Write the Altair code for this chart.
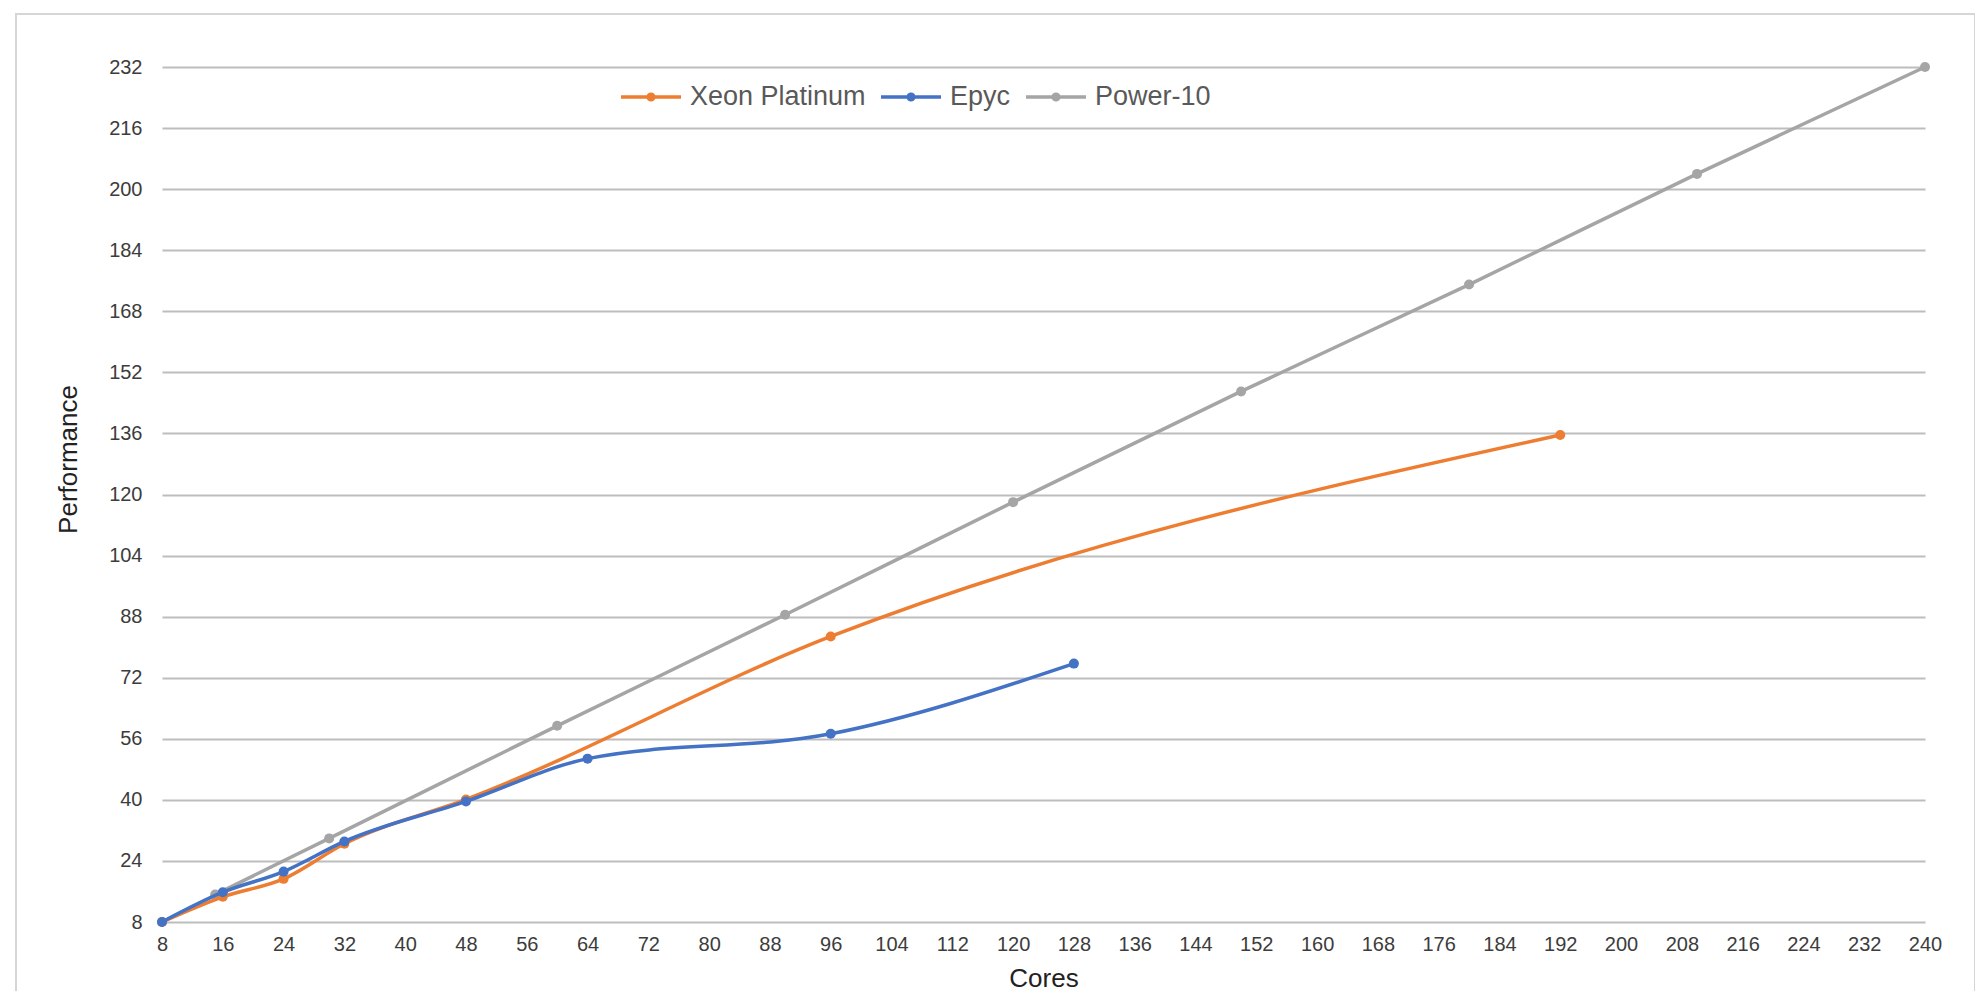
import altair as alt
import pandas as pd

series_names = ["Xeon Platinum", "Epyc", "Power-10"]
series_colors = ["#ED7D31", "#4472C4", "#A5A5A5"]

xeon_cores = [8, 16, 24, 32, 48, 96, 192]
xeon_perf = [8, 14.6, 19.3, 28.5, 40.1, 82.8, 135.6]

epyc_cores = [8, 16, 24, 32, 48, 64, 96, 128]
epyc_perf = [8, 15.8, 21.2, 29.1, 39.6, 50.8, 57.3, 75.7]

power_cores = [15, 30, 60, 90, 120, 150, 180, 210, 240]
power_perf = [15.2, 29.9, 59.4, 88.5, 118, 147, 175, 204, 232]

x_ticks = list(range(8, 241, 8))
y_ticks = list(range(8, 233, 16))

FONT = "Liberation Sans"


def frame(name, cores, perf):
    return pd.DataFrame({"Cores": cores, "Performance": perf, "Series": [name] * len(cores)})


df_xeon = frame("Xeon Platinum", xeon_cores, xeon_perf)
df_epyc = frame("Epyc", epyc_cores, epyc_perf)
df_power = frame("Power-10", power_cores, power_perf)

x_enc = alt.X(
    "Cores:Q",
    scale=alt.Scale(domain=[8, 240], nice=False, zero=False),
    axis=alt.Axis(
        values=x_ticks,
        grid=False,
        ticks=False,
        domain=False,
        labelFontSize=20,
        labelFont=FONT,
        labelColor="#3c3c3c",
        labelPadding=12,
        labelFlush=False,
        labelOverlap=False,
        title="Cores",
        titleFont=FONT,
        titleFontSize=26,
        titleFontWeight="normal",
        titleColor="#222222",
        titleY=56,
        titleBaseline="middle",
    ),
)

y_enc = alt.Y(
    "Performance:Q",
    scale=alt.Scale(domain=[8, 232], nice=False, zero=False),
    axis=alt.Axis(
        values=y_ticks,
        grid=True,
        gridColor="#BDBDBD",
        gridWidth=2,
        ticks=False,
        domain=False,
        labelFontSize=20,
        labelFont=FONT,
        labelColor="#3c3c3c",
        labelPadding=20,
        labelOverlap=False,
        title="Performance",
        titleFont=FONT,
        titleFontSize=26,
        titleFontWeight="normal",
        titleColor="#222222",
        titleAngle=270,
        titleX=-94,
        titleY=392,
        titleAlign="center",
        titleBaseline="middle",
    ),
)

color_enc = alt.Color(
    "Series:N",
    scale=alt.Scale(domain=series_names, range=series_colors),
    legend=alt.Legend(
        title=None,
        orient="none",
        direction="horizontal",
        legendX=457,
        legendY=-2,
        symbolType="M-1,0H1M0.095,0A0.095,0.095 0 1,1 -0.095,0A0.095,0.095 0 1,1 0.095,0Z",
        symbolSize=3600,
        symbolStrokeWidth=3.5,
        labelFont=FONT,
        labelFontSize=27,
        labelColor="#595959",
        labelOffset=7,
        labelLimit=500,
        columnPadding=8,
        padding=0,
        labelExpr="datum.label == 'Xeon Platinum' ? '\u00a0\u00a0\u00a0\u00a0Xeon Platinum' : datum.label",
    ),
)


def series_layers(df):
    base = alt.Chart(df).encode(x=x_enc, y=y_enc, color=color_enc)
    line = base.mark_line(interpolate="monotone", strokeWidth=3.5)
    pts = base.mark_circle(size=100, opacity=1)
    return [line, pts]


border = alt.Chart(pd.DataFrame({"a": [0]})).mark_rect(
    filled=False, stroke="#D6D6D6", strokeWidth=2
).encode(
    x=alt.value(-146), x2=alt.value(1813), y=alt.value(-53), y2=alt.value(925)
)

layers = [border] + series_layers(df_power) + series_layers(df_xeon) + series_layers(df_epyc)

chart = (
    alt.layer(*layers)
    .properties(
        width=1763,
        height=855,
        autosize=alt.AutoSizeParams(type="none"),
        padding={"left": 154, "top": 59, "right": 50, "bottom": 69},
        background="white",
    )
    .configure_view(stroke="transparent")
)

chart.save("out.html", embed_options={"renderer": "svg", "actions": False})
